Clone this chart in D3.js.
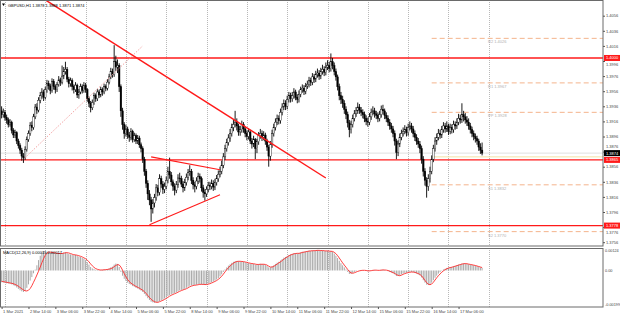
<!DOCTYPE html>
<html><head><meta charset="utf-8">
<script src="https://cdn.jsdelivr.net/npm/d3@7"></script>
<style>
body{margin:0;background:#fff}
svg{display:block}
text{font-family:"Liberation Sans",Arial,sans-serif}
</style></head>
<body><svg id="c" width="620" height="316"></svg>
<script>
// ---------- DATA (GBPUSD H1, bar 0 = 1 Mar 2021 22:00) ----------
const symbolTitle = "GBPUSD,H1  1.3878 1.3888 1.3871 1.3874";
const macdTitle = "MACD(12,26,9) 0.00015 0.00017";
const firstOpen = 1.3930;
const closes = [1.3925,1.3928,1.3921,1.3918,1.3912,1.3915,1.3904,1.3898,1.3901,1.3890,1.3884,1.3878,
1.3870,1.3868,1.3879,1.3892,1.3900,1.3911,1.3908,1.3922,1.3935,1.3931,1.3944,1.3950,
1.3955,1.3948,1.3958,1.3966,1.3963,1.3957,1.3969,1.3962,1.3958,1.3965,1.3971,1.3968,
1.3976,1.3982,1.3985,1.3972,1.3966,1.3970,1.3962,1.3958,1.3964,1.3951,1.3955,1.3962,
1.3957,1.3964,1.3958,1.3946,1.3940,1.3934,1.3941,1.3950,1.3946,1.3955,1.3951,1.3958,
1.3955,1.3962,1.3960,1.3968,1.3975,1.3982,1.3978,1.3995,1.3988,1.3990,1.3962,1.3930,
1.3912,1.3900,1.3906,1.3898,1.3895,1.3903,1.3892,1.3897,1.3890,1.3894,1.3885,1.3880,
1.3866,1.3850,1.3834,1.3820,1.3812,1.3800,1.3808,1.3815,1.3828,1.3822,1.3840,1.3833,
1.3826,1.3830,1.3838,1.3850,1.3845,1.3836,1.3830,1.3825,1.3832,1.3841,1.3840,1.3833,
1.3828,1.3835,1.3842,1.3848,1.3850,1.3838,1.3832,1.3830,1.3837,1.3843,1.3840,1.3828,
1.3822,1.3820,1.3826,1.3831,1.3830,1.3834,1.3829,1.3835,1.3840,1.3846,1.3850,1.3858,
1.3869,1.3880,1.3888,1.3894,1.3900,1.3908,1.3912,1.3915,1.3910,1.3902,1.3905,1.3912,
1.3906,1.3900,1.3896,1.3902,1.3890,1.3886,1.3892,1.3880,1.3889,1.3897,1.3900,1.3895,
1.3898,1.3890,1.3882,1.3870,1.3885,1.3900,1.3908,1.3915,1.3920,1.3917,1.3928,1.3935,
1.3940,1.3936,1.3945,1.3950,1.3946,1.3950,1.3955,1.3948,1.3945,1.3952,1.3958,1.3960,
1.3956,1.3963,1.3965,1.3970,1.3968,1.3975,1.3972,1.3978,1.3980,1.3976,1.3982,1.3985,
1.3981,1.3988,1.3990,1.3986,1.3995,1.3990,1.3982,1.3975,1.3962,1.3950,1.3945,1.3940,
1.3932,1.3925,1.3914,1.3905,1.3912,1.3920,1.3926,1.3930,1.3935,1.3931,1.3928,1.3925,
1.3920,1.3916,1.3915,1.3922,1.3928,1.3930,1.3926,1.3924,1.3920,1.3925,1.3932,1.3930,
1.3924,1.3920,1.3915,1.3910,1.3906,1.3900,1.3890,1.3875,1.3886,1.3895,1.3900,1.3903,
1.3905,1.3901,1.3908,1.3910,1.3906,1.3900,1.3895,1.3890,1.3886,1.3880,1.3866,1.3850,
1.3838,1.3830,1.3840,1.3850,1.3866,1.3880,1.3890,1.3895,1.3900,1.3898,1.3905,1.3910,
1.3906,1.3910,1.3903,1.3908,1.3905,1.3912,1.3910,1.3915,1.3920,1.3918,1.3925,1.3922,
1.3918,1.3915,1.3910,1.3905,1.3900,1.3896,1.3893,1.3890,1.3882,1.3878,1.3874];
const highs = [1.3936,1.3933,1.3931,1.3925,1.3921,1.3919,1.3917,1.3907,1.3905,1.3903,1.3893,1.3887,
1.3881,1.3874,1.3883,1.3896,1.3904,1.3915,1.3916,1.3926,1.3939,1.3940,1.3948,1.3955,
1.3960,1.3958,1.3962,1.3971,1.3970,1.3966,1.3973,1.3972,1.3965,1.3968,1.3976,1.3974,
1.3990,1.3988,1.3995,1.3988,1.3975,1.3974,1.3973,1.3965,1.3968,1.3966,1.3959,1.3966,
1.3965,1.3968,1.3967,1.3960,1.3949,1.3943,1.3945,1.3954,1.3953,1.3959,1.3958,1.3962,
1.3961,1.3966,1.3965,1.3972,1.3979,1.3987,1.3986,1.4017,1.4003,1.3998,1.3993,1.3965,
1.3934,1.3915,1.3911,1.3909,1.3902,1.3907,1.3905,1.3901,1.3900,1.3898,1.3897,1.3888,
1.3883,1.3869,1.3853,1.3838,1.3825,1.3816,1.3813,1.3820,1.3833,1.3832,1.3846,1.3844,
1.3837,1.3835,1.3843,1.3856,1.3868,1.3849,1.3839,1.3834,1.3837,1.3846,1.3848,1.3844,
1.3837,1.3840,1.3847,1.3853,1.3858,1.3853,1.3842,1.3836,1.3842,1.3848,1.3847,1.3843,
1.3832,1.3826,1.3830,1.3836,1.3836,1.3839,1.3838,1.3840,1.3845,1.3851,1.3856,1.3864,
1.3874,1.3885,1.3893,1.3899,1.3906,1.3913,1.3918,1.3930,1.3920,1.3913,1.3910,1.3917,
1.3915,1.3909,1.3904,1.3907,1.3905,1.3894,1.3897,1.3894,1.3893,1.3902,1.3906,1.3904,
1.3903,1.3901,1.3893,1.3885,1.3890,1.3905,1.3913,1.3920,1.3925,1.3924,1.3933,1.3940,
1.3945,1.3944,1.3950,1.3955,1.3954,1.3955,1.3960,1.3958,1.3952,1.3957,1.3962,1.3965,
1.3964,1.3967,1.3970,1.3975,1.3974,1.3980,1.3979,1.3983,1.3986,1.3984,1.3987,1.3991,
1.3989,1.3994,1.3997,1.3995,1.4006,1.4000,1.3994,1.3986,1.3978,1.3966,1.3955,1.3950,
1.3944,1.3936,1.3929,1.3918,1.3917,1.3925,1.3931,1.3935,1.3941,1.3939,1.3935,1.3932,
1.3929,1.3924,1.3921,1.3927,1.3933,1.3936,1.3934,1.3930,1.3928,1.3930,1.3937,1.3938,
1.3933,1.3928,1.3924,1.3919,1.3914,1.3910,1.3904,1.3893,1.3891,1.3900,1.3905,1.3908,
1.3911,1.3909,1.3913,1.3916,1.3914,1.3910,1.3904,1.3899,1.3894,1.3890,1.3884,1.3870,
1.3854,1.3842,1.3846,1.3856,1.3871,1.3885,1.3895,1.3900,1.3906,1.3905,1.3910,1.3915,
1.3914,1.3916,1.3913,1.3913,1.3912,1.3917,1.3916,1.3920,1.3926,1.3925,1.3940,1.3930,
1.3927,1.3923,1.3920,1.3914,1.3909,1.3904,1.3900,1.3897,1.3893,1.3887,1.3888];
const lows = [1.3920,1.3921,1.3917,1.3913,1.3908,1.3909,1.3900,1.3894,1.3894,1.3886,1.3880,1.3873,
1.3864,1.3861,1.3865,1.3876,1.3889,1.3897,1.3903,1.3905,1.3919,1.3926,1.3928,1.3940,
1.3946,1.3943,1.3945,1.3954,1.3958,1.3952,1.3954,1.3958,1.3953,1.3955,1.3962,1.3963,
1.3965,1.3972,1.3978,1.3968,1.3961,1.3962,1.3957,1.3953,1.3955,1.3947,1.3946,1.3952,
1.3953,1.3954,1.3954,1.3942,1.3935,1.3928,1.3931,1.3938,1.3942,1.3943,1.3947,1.3948,
1.3950,1.3952,1.3956,1.3957,1.3965,1.3972,1.3974,1.3975,1.3983,1.3980,1.3955,1.3922,
1.3905,1.3893,1.3896,1.3893,1.3889,1.3891,1.3888,1.3889,1.3886,1.3886,1.3881,1.3875,
1.3861,1.3844,1.3828,1.3812,1.3805,1.3783,1.3794,1.3802,1.3811,1.3817,1.3818,1.3828,
1.3820,1.3821,1.3826,1.3834,1.3840,1.3831,1.3824,1.3818,1.3821,1.3828,1.3835,1.3829,
1.3822,1.3824,1.3831,1.3838,1.3844,1.3833,1.3826,1.3822,1.3826,1.3833,1.3835,1.3823,
1.3815,1.3811,1.3816,1.3822,1.3825,1.3826,1.3824,1.3825,1.3831,1.3836,1.3842,1.3846,
1.3854,1.3865,1.3876,1.3884,1.3889,1.3896,1.3903,1.3908,1.3904,1.3897,1.3897,1.3901,
1.3901,1.3895,1.3891,1.3892,1.3886,1.3880,1.3882,1.3866,1.3874,1.3885,1.3893,1.3890,
1.3891,1.3885,1.3877,1.3856,1.3864,1.3881,1.3896,1.3904,1.3911,1.3912,1.3913,1.3924,
1.3931,1.3931,1.3932,1.3941,1.3941,1.3942,1.3946,1.3944,1.3940,1.3941,1.3948,1.3954,
1.3951,1.3952,1.3959,1.3961,1.3963,1.3964,1.3967,1.3968,1.3974,1.3971,1.3972,1.3978,
1.3976,1.3977,1.3984,1.3981,1.3982,1.3985,1.3977,1.3970,1.3957,1.3944,1.3939,1.3934,
1.3926,1.3919,1.3908,1.3895,1.3900,1.3908,1.3916,1.3922,1.3926,1.3926,1.3923,1.3920,
1.3915,1.3911,1.3909,1.3911,1.3918,1.3924,1.3921,1.3919,1.3915,1.3916,1.3921,1.3925,
1.3919,1.3915,1.3910,1.3905,1.3901,1.3895,1.3884,1.3866,1.3870,1.3882,1.3891,1.3896,
1.3899,1.3896,1.3897,1.3904,1.3901,1.3895,1.3890,1.3885,1.3881,1.3874,1.3860,1.3843,
1.3831,1.3815,1.3824,1.3835,1.3846,1.3862,1.3876,1.3885,1.3891,1.3893,1.3894,1.3901,
1.3901,1.3902,1.3898,1.3899,1.3900,1.3901,1.3905,1.3906,1.3911,1.3913,1.3914,1.3916,
1.3913,1.3910,1.3905,1.3900,1.3895,1.3891,1.3888,1.3885,1.3877,1.3873,1.3871];
const macdHist = [-0.00068,-0.00070,-0.00072,-0.00074,-0.00075,-0.00076,-0.00080,-0.00085,-0.00090,-0.00098,-0.00106,-0.00114,
-0.00120,-0.00124,-0.00118,-0.00100,-0.00080,-0.00058,-0.00038,-0.00016,0.00005,0.00030,0.00060,0.00085,
0.00105,0.00112,0.00110,0.00108,0.00105,0.00102,0.00104,0.00100,0.00096,0.00097,0.00100,0.00099,
0.00101,0.00104,0.00106,0.00100,0.00095,0.00093,0.00090,0.00088,0.00090,0.00085,0.00080,0.00078,
0.00072,0.00068,0.00060,0.00048,0.00034,0.00020,0.00012,0.00008,0.00004,0.00003,0.00002,0.00003,
0.00004,0.00006,0.00005,0.00008,0.00012,0.00018,0.00022,0.00034,0.00040,0.00038,0.00020,-0.00008,
-0.00030,-0.00048,-0.00060,-0.00070,-0.00078,-0.00082,-0.00090,-0.00094,-0.00100,-0.00104,-0.00110,-0.00116,
-0.00124,-0.00135,-0.00148,-0.00160,-0.00170,-0.00180,-0.00184,-0.00186,-0.00184,-0.00182,-0.00176,-0.00172,
-0.00168,-0.00162,-0.00156,-0.00148,-0.00142,-0.00138,-0.00134,-0.00130,-0.00126,-0.00120,-0.00115,-0.00112,
-0.00110,-0.00106,-0.00100,-0.00094,-0.00088,-0.00086,-0.00085,-0.00084,-0.00082,-0.00080,-0.00079,-0.00080,
-0.00082,-0.00083,-0.00080,-0.00076,-0.00072,-0.00068,-0.00064,-0.00058,-0.00052,-0.00044,-0.00034,-0.00022,
-0.00008,0.00006,0.00018,0.00028,0.00036,0.00044,0.00050,0.00054,0.00055,0.00053,0.00052,0.00053,
0.00050,0.00047,0.00044,0.00042,0.00040,0.00038,0.00038,0.00034,0.00034,0.00036,0.00038,0.00037,
0.00036,0.00032,0.00026,0.00018,0.00018,0.00024,0.00030,0.00038,0.00045,0.00050,0.00058,0.00066,
0.00074,0.00078,0.00084,0.00090,0.00093,0.00096,0.00100,0.00100,0.00098,0.00100,0.00104,0.00108,
0.00108,0.00110,0.00112,0.00114,0.00113,0.00115,0.00114,0.00116,0.00117,0.00114,0.00114,0.00115,
0.00112,0.00113,0.00114,0.00110,0.00112,0.00108,0.00098,0.00086,0.00072,0.00056,0.00042,0.00030,
0.00018,0.00006,-0.00008,-0.00020,-0.00020,-0.00014,-0.00008,-0.00004,0.00000,0.00001,0.00002,0.00002,
0.00000,-0.00002,-0.00004,-0.00002,0.00001,0.00003,0.00003,0.00002,0.00000,0.00001,0.00004,0.00005,
0.00003,0.00000,-0.00004,-0.00008,-0.00012,-0.00016,-0.00022,-0.00032,-0.00032,-0.00028,-0.00022,-0.00018,
-0.00014,-0.00013,-0.00010,-0.00008,-0.00008,-0.00010,-0.00013,-0.00017,-0.00022,-0.00028,-0.00040,-0.00056,
-0.00070,-0.00082,-0.00084,-0.00080,-0.00070,-0.00056,-0.00042,-0.00030,-0.00018,-0.00010,-0.00002,0.00006,
0.00010,0.00015,0.00016,0.00019,0.00020,0.00024,0.00026,0.00030,0.00034,0.00036,0.00040,0.00041,
0.00040,0.00038,0.00036,0.00034,0.00032,0.00030,0.00028,0.00025,0.00022,0.00018,0.00015];
const macdSignal = [-0.00062,-0.00064,-0.00066,-0.00068,-0.00070,-0.00072,-0.00074,-0.00076,-0.00080,-0.00085,-0.00091,-0.00098,
-0.00105,-0.00112,-0.00117,-0.00118,-0.00114,-0.00104,-0.00088,-0.00068,-0.00048,-0.00026,-0.00004,0.00020,
0.00045,0.00068,0.00088,0.00100,0.00106,0.00106,0.00104,0.00103,0.00101,0.00099,0.00098,0.00098,
0.00098,0.00100,0.00102,0.00103,0.00101,0.00098,0.00094,0.00091,0.00090,0.00088,0.00085,0.00082,
0.00078,0.00073,0.00068,0.00060,0.00050,0.00038,0.00027,0.00018,0.00011,0.00007,0.00004,0.00003,
0.00003,0.00004,0.00005,0.00006,0.00008,0.00011,0.00015,0.00022,0.00029,0.00034,0.00032,0.00020,
0.00002,-0.00018,-0.00036,-0.00052,-0.00064,-0.00073,-0.00080,-0.00086,-0.00092,-0.00097,-0.00102,-0.00108,
-0.00114,-0.00122,-0.00132,-0.00144,-0.00156,-0.00166,-0.00174,-0.00180,-0.00183,-0.00184,-0.00180,-0.00176,
-0.00172,-0.00167,-0.00161,-0.00155,-0.00148,-0.00143,-0.00138,-0.00134,-0.00130,-0.00125,-0.00120,-0.00116,
-0.00112,-0.00109,-0.00105,-0.00100,-0.00094,-0.00090,-0.00087,-0.00085,-0.00084,-0.00082,-0.00080,-0.00080,
-0.00080,-0.00081,-0.00081,-0.00079,-0.00076,-0.00072,-0.00068,-0.00063,-0.00058,-0.00051,-0.00043,-0.00033,
-0.00021,-0.00008,0.00005,0.00016,0.00026,0.00035,0.00042,0.00048,0.00052,0.00053,0.00053,0.00052,
0.00051,0.00049,0.00047,0.00044,0.00042,0.00040,0.00039,0.00037,0.00035,0.00035,0.00036,0.00036,
0.00036,0.00035,0.00031,0.00025,0.00020,0.00020,0.00024,0.00030,0.00037,0.00044,0.00050,0.00057,
0.00065,0.00072,0.00078,0.00084,0.00089,0.00093,0.00096,0.00098,0.00099,0.00099,0.00101,0.00104,
0.00106,0.00108,0.00110,0.00112,0.00113,0.00114,0.00114,0.00115,0.00116,0.00116,0.00115,0.00115,
0.00114,0.00113,0.00113,0.00112,0.00111,0.00110,0.00105,0.00097,0.00086,0.00072,0.00058,0.00044,
0.00031,0.00019,0.00006,-0.00006,-0.00014,-0.00016,-0.00013,-0.00009,-0.00005,-0.00002,0.00000,0.00001,
0.00001,0.00000,-0.00002,-0.00002,-0.00001,0.00001,0.00002,0.00002,0.00001,0.00001,0.00002,0.00003,
0.00003,0.00002,0.00000,-0.00004,-0.00008,-0.00012,-0.00017,-0.00023,-0.00028,-0.00030,-0.00027,-0.00022,
-0.00018,-0.00015,-0.00012,-0.00010,-0.00009,-0.00009,-0.00011,-0.00014,-0.00018,-0.00023,-0.00031,-0.00043,
-0.00057,-0.00070,-0.00079,-0.00082,-0.00078,-0.00068,-0.00055,-0.00042,-0.00030,-0.00020,-0.00010,-0.00002,
0.00005,0.00010,0.00014,0.00017,0.00019,0.00022,0.00025,0.00028,0.00031,0.00034,0.00037,0.00039,
0.00040,0.00039,0.00037,0.00035,0.00033,0.00031,0.00029,0.00026,0.00023,0.00020,0.00017];

const priceTicks = [1.4056,1.4036,1.4016,1.3996,1.3976,1.3956,1.3936,1.3916,1.3896,1.3876,1.3856,1.3836,1.3816,1.3796,1.3776,1.3756];
const timeLabels = ["1 Mar 2021","2 Mar 14:00","3 Mar 06:00","3 Mar 22:00","4 Mar 14:00","5 Mar 06:00","5 Mar 22:00","8 Mar 14:00","9 Mar 06:00","9 Mar 22:00","10 Mar 14:00","11 Mar 06:00","11 Mar 22:00","12 Mar 14:00","15 Mar 06:00","15 Mar 22:00","16 Mar 14:00","17 Mar 06:00"];
const timeLabelBars = [0,16,32,48,64,80,96,112,128,144,160,176,192,208,224,240,256,272];
const dayGridBars = [2,26,50,74,98,122,146,170,194,218,242,266,290];
const redLevels = [1.4000,1.3865,1.3778];
const dashedLevels = [1.4026,1.3967,1.3928,1.3832,1.3770];
const dashedNames = ["R2","R1","PP","S1","S2"];
const dashedStartBar = 256;
const paleLevel = 1.3869;
const macdTicks = [0.00124,0,-0.00199];
const macdTickLabels = ["0.00124","0.00","-0.00199"];
const mainTrend = [[26,1.4077],[193,1.3841]];
const triUpper = [[89,1.3869],[130,1.3852]];
const triLower = [[88,1.3779],[130,1.3819]];
const dotTrend = [[14,1.3868],[84,1.4016]];

// ---------- LAYOUT ----------
const plotR = 603, mainTop = 0, mainBot = 246, macdTop = 248, macdBot = 307;
const svg = d3.select('#c');
const x = d3.scaleLinear().domain([0,100]).range([1.6,169.6]);
const y = d3.scaleLinear().domain([1.3756,1.4056]).range([242.2,15.7]);
const yM = d3.scaleLinear().domain([-0.00199,0.00124]).range([305,249]);

const bars = closes.map((c,i)=>({i, o: i===0?firstOpen:closes[i-1], h: highs[i], l: lows[i], c}));
const lastClose = closes[closes.length-1];

const defs = svg.append('defs');
defs.append('clipPath').attr('id','cm').append('rect').attr('x',0).attr('y',mainTop).attr('width',plotR).attr('height',mainBot-mainTop);
defs.append('clipPath').attr('id','cmacd').append('rect').attr('x',0).attr('y',macdTop).attr('width',plotR).attr('height',macdBot-macdTop);

// grid
[ [mainTop,mainBot], [macdTop,macdBot] ].forEach(([t,b])=>{
  svg.append('g').selectAll('line').data(dayGridBars).join('line')
    .attr('x1',d=>Math.round(x(d))+0.5).attr('x2',d=>Math.round(x(d))+0.5)
    .attr('y1',t).attr('y2',b).attr('stroke','#b8b8b8').attr('stroke-width',1).attr('stroke-dasharray','1,1');
});

const main = svg.append('g').attr('clip-path','url(#cm)');

// dashed pivot levels
main.append('g').selectAll('line').data(dashedLevels).join('line')
  .attr('x1',x(dashedStartBar)).attr('x2',plotR)
  .attr('y1',d=>y(d)).attr('y2',d=>y(d))
  .attr('stroke','#f4b48c').attr('stroke-width',1).attr('stroke-dasharray','5,3');
main.append('g').selectAll('text').data(dashedLevels).join('text')
  .attr('x',488).attr('y',d=>y(d)+5).attr('font-size',4).attr('fill','#b0b0b0')
  .text((d,i)=>dashedNames[i]+" "+d.toFixed(4));
main.append('line').attr('x1',x(dashedStartBar)).attr('x2',plotR)
  .attr('y1',y(paleLevel)).attr('y2',y(paleLevel)).attr('stroke','#f3e3a6').attr('stroke-width',1);
main.append('line').attr('x1',0).attr('x2',plotR)
  .attr('y1',y(lastClose)).attr('y2',y(lastClose)).attr('stroke','#d8d8d8').attr('stroke-width',0.8);

// red horizontal levels
main.append('g').selectAll('line').data(redLevels).join('line')
  .attr('x1',0).attr('x2',plotR).attr('y1',d=>y(d)).attr('y2',d=>y(d))
  .attr('stroke','#ff1a1a').attr('stroke-width',1.4);

// candles
const cg = main.append('g');
cg.selectAll('line').data(bars).join('line')
  .attr('x1',d=>x(d.i)).attr('x2',d=>x(d.i))
  .attr('y1',d=>y(d.h)).attr('y2',d=>y(d.l))
  .attr('stroke','#000').attr('stroke-width',0.9);
cg.selectAll('rect').data(bars).join('rect')
  .attr('x',d=>x(d.i)-0.8).attr('width',1.6)
  .attr('y',d=>y(Math.max(d.o,d.c)))
  .attr('height',d=>Math.max(0.6,Math.abs(y(d.o)-y(d.c))))
  .attr('fill',d=>d.c>=d.o?'#fff':'#000')
  .attr('stroke','#000').attr('stroke-width',0.4);

// trend lines
const tl = d3.line().x(d=>x(d[0])).y(d=>y(d[1]));
main.append('path').attr('d',tl(dotTrend)).attr('fill','none').attr('stroke','#f19a9a').attr('stroke-width',0.9).attr('stroke-dasharray','1.5,1.5');
main.append('path').attr('d',tl(mainTrend)).attr('fill','none').attr('stroke','#ff1a1a').attr('stroke-width',1.4);
main.append('path').attr('d',tl(triUpper)).attr('fill','none').attr('stroke','#ff1a1a').attr('stroke-width',1.1);
main.append('path').attr('d',tl(triLower)).attr('fill','none').attr('stroke','#ff1a1a').attr('stroke-width',1.1);

// MACD
const mg = svg.append('g').attr('clip-path','url(#cmacd)');
mg.selectAll('line').data(macdHist).join('line')
  .attr('x1',(d,i)=>x(i)).attr('x2',(d,i)=>x(i))
  .attr('y1',yM(0)).attr('y2',d=>yM(d))
  .attr('stroke','#a8a8a8').attr('stroke-width',1);
mg.append('path').attr('d',d3.line().x((d,i)=>x(i)).y(d=>yM(d))(macdSignal))
  .attr('fill','none').attr('stroke','#ff2a2a').attr('stroke-width',0.9);

// frames
svg.append('rect').attr('x',0.5).attr('y',mainTop+0.5).attr('width',plotR-0.5).attr('height',mainBot-mainTop-0.5)
  .attr('fill','none').attr('stroke','#6a6a6a').attr('stroke-width',1);
svg.append('rect').attr('x',0.5).attr('y',macdTop+0.5).attr('width',plotR-0.5).attr('height',macdBot-macdTop-0.5)
  .attr('fill','none').attr('stroke','#6a6a6a').attr('stroke-width',1);

// price axis (tick labels nudged away from the level boxes)
const boxLevels = redLevels.concat([lastClose]);
const nudge = d => {
  let off = 0;
  boxLevels.forEach(l => { const dy = y(d) - y(l); if (Math.abs(dy) < 6.5) off = (dy >= 0 ? 1 : -1) * (6.5 - Math.abs(dy)); });
  return off;
};
const pa = svg.append('g').attr('transform',`translate(${plotR},0)`)
  .call(d3.axisRight(y).tickValues(priceTicks).tickSize(2).tickPadding(1).tickFormat(d3.format('.4f')));
pa.select('.domain').remove();
pa.selectAll('line').attr('stroke','#555');
pa.selectAll('text').attr('font-size',4).attr('fill','#444').attr('font-family','"Liberation Sans",Arial,sans-serif')
  .attr('y',d=>nudge(d));

// red level labels
const rl = svg.append('g').selectAll('g').data(redLevels).join('g').attr('transform',d=>`translate(${plotR+1},${y(d)})`);
rl.append('rect').attr('x',0).attr('y',-3).attr('width',16).attr('height',6).attr('fill','#ff1a1a');
rl.append('text').attr('x',2).attr('y',1.5).attr('font-size',4).attr('fill','#fff').text(d=>d.toFixed(4));
// current price label
const cp = svg.append('g').attr('transform',`translate(${plotR+1},${y(lastClose)})`);
cp.append('rect').attr('x',0).attr('y',-3).attr('width',16).attr('height',6).attr('fill','#000');
cp.append('text').attr('x',2).attr('y',1.5).attr('font-size',4).attr('fill','#fff').text(lastClose.toFixed(4));

// MACD axis labels
svg.append('g').selectAll('text').data(macdTicks).join('text')
  .attr('x',plotR+2).attr('y',d=>Math.min(305.5,Math.max(252,yM(d)+1.5))).attr('font-size',3.8).attr('fill','#444')
  .text((d,i)=>macdTickLabels[i]);

// time axis
const ta = svg.append('g').attr('transform',`translate(0,${macdBot})`)
  .call(d3.axisBottom(x).tickValues(timeLabelBars).tickSize(2).tickPadding(1).tickFormat((d,i)=>timeLabels[i]));
ta.select('.domain').remove();
ta.selectAll('line').attr('stroke','#555');
ta.selectAll('text').attr('font-size',4).attr('fill','#444').attr('text-anchor','start').attr('dx',1).attr('font-family','"Liberation Sans",Arial,sans-serif');

// titles
svg.append('path').attr('d','M2,3.5 L5,3.5 L3.5,6 Z').attr('fill','#000');
svg.append('text').attr('x',8).attr('y',6.5).attr('font-size',4).attr('fill','#000').text(symbolTitle);
svg.append('text').attr('x',3).attr('y',254).attr('font-size',4).attr('fill','#000').text(macdTitle);
</script></body></html>
